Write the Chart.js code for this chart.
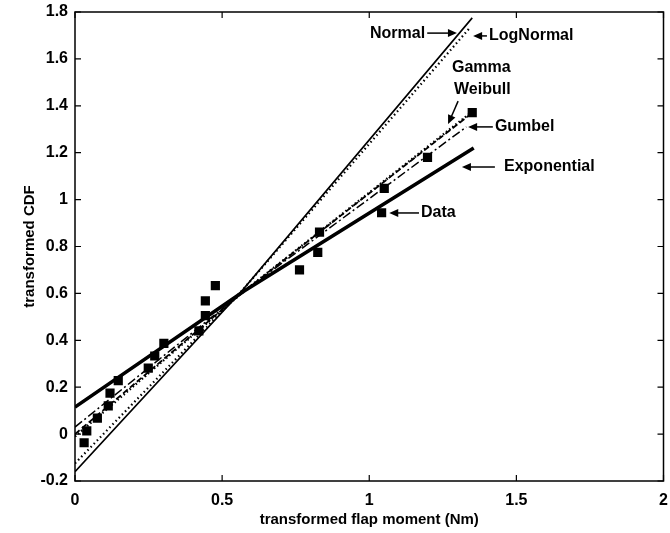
<!DOCTYPE html>
<html>
<head>
<meta charset="utf-8">
<script src="https://cdn.jsdelivr.net/npm/chart.js@4.4.0/dist/chart.umd.min.js"></script>
<style>
  html, body { margin: 0; background: #fff; }
</style>
</head>
<body>
<canvas id="chart" width="670" height="533"></canvas>
<script>
// tick labels
const xTicks = [0, 0.5, 1, 1.5, 2];
const yTicks = [-0.2, 0, 0.2, 0.4, 0.6, 0.8, 1, 1.2, 1.4, 1.6, 1.8];

// data points (transformed flap moment, transformed CDF)
const dataX = [0.031, 0.040, 0.076, 0.113, 0.119, 0.147, 0.249, 0.271, 0.302, 0.421, 0.443, 0.443, 0.477,
               0.763, 0.825, 0.831, 1.042, 1.051, 1.198, 1.350];
const dataY = [-0.037, 0.014, 0.068, 0.120, 0.175, 0.228, 0.281, 0.333, 0.387, 0.440, 0.505, 0.568, 0.633,
               0.700, 0.775, 0.861, 0.944, 1.048, 1.180, 1.371];

// fitted distribution lines
const normalX = [0, 0.57, 1.35];
const normalY = [-0.16, 0.615, 1.775];
const logNormalX = [0, 0.57, 1.34];
const logNormalY = [-0.125, 0.615, 1.73];
const gammaX = [0, 0.575, 1.35];
const gammaY = [0.0, 0.61, 1.37];
const weibullX = [0, 0.575, 1.35];
const weibullY = [-0.01, 0.61, 1.375];
const gumbelX = [0, 0.575, 1.33];
const gumbelY = [0.03, 0.61, 1.31];
const expX = [0, 0.575, 1.355];
const expY = [0.115, 0.61, 1.22];

const FONT = '"Liberation Sans", Arial, sans-serif';

function pts(xs, ys) {
    return xs.map((x, i) => ({ x: x, y: ys[i] }));
}

function lineSet(label, xs, ys, width, dash) {
    return {
        label: label,
        data: pts(xs, ys),
        showLine: true,
        borderColor: '#000',
        borderWidth: width,
        borderDash: dash,
        pointRadius: 0,
        fill: false,
        tension: 0
    };
}

// annotation labels with arrows, in data units
const notes = [
    { text: 'Normal', x: 1.19, y: 1.71, align: 'right', arrow: [1.197, 1.71, 1.298, 1.71] },
    { text: 'LogNormal', x: 1.407, y: 1.698, align: 'left', arrow: [1.40, 1.698, 1.353, 1.698] },
    { text: 'Gamma', x: 1.281, y: 1.561, align: 'left' },
    { text: 'Weibull', x: 1.288, y: 1.467, align: 'left', arrow: [1.302, 1.42, 1.268, 1.322] },
    { text: 'Gumbel', x: 1.427, y: 1.31, align: 'left', arrow: [1.42, 1.31, 1.336, 1.31] },
    { text: 'Exponential', x: 1.458, y: 1.139, align: 'left', arrow: [1.427, 1.139, 1.315, 1.139] },
    { text: 'Data', x: 1.176, y: 0.943, align: 'left', arrow: [1.169, 0.943, 1.068, 0.943] }
];

// box and inward ticks like the original plot
const boxPlugin = {
    id: 'box',
    afterDraw(chart) {
        const { ctx, chartArea: a, scales } = chart;
        ctx.save();
        ctx.strokeStyle = '#000';
        ctx.lineWidth = 1.5;
        ctx.strokeRect(a.left, a.top, a.right - a.left, a.bottom - a.top);
        ctx.lineWidth = 1.2;
        const len = 6;
        xTicks.forEach(v => {
            const px = scales.x.getPixelForValue(v);
            ctx.beginPath();
            ctx.moveTo(px, a.bottom); ctx.lineTo(px, a.bottom - len);
            ctx.moveTo(px, a.top); ctx.lineTo(px, a.top + len);
            ctx.stroke();
        });
        yTicks.forEach(v => {
            const py = scales.y.getPixelForValue(v);
            ctx.beginPath();
            ctx.moveTo(a.left, py); ctx.lineTo(a.left + len, py);
            ctx.moveTo(a.right, py); ctx.lineTo(a.right - len, py);
            ctx.stroke();
        });

        // annotations
        ctx.fillStyle = '#000';
        ctx.font = 'bold 16px ' + FONT;
        ctx.textBaseline = 'middle';
        notes.forEach(n => {
            ctx.textAlign = n.align;
            ctx.fillText(n.text, scales.x.getPixelForValue(n.x), scales.y.getPixelForValue(n.y));
            if (n.arrow) {
                const x1 = scales.x.getPixelForValue(n.arrow[0]);
                const y1 = scales.y.getPixelForValue(n.arrow[1]);
                const x2 = scales.x.getPixelForValue(n.arrow[2]);
                const y2 = scales.y.getPixelForValue(n.arrow[3]);
                const ang = Math.atan2(y2 - y1, x2 - x1);
                const hl = 9, hw = 4;
                ctx.lineWidth = 1.5;
                ctx.beginPath();
                ctx.moveTo(x1, y1);
                ctx.lineTo(x2 - Math.cos(ang) * hl * 0.8, y2 - Math.sin(ang) * hl * 0.8);
                ctx.stroke();
                ctx.beginPath();
                ctx.moveTo(x2, y2);
                ctx.lineTo(x2 - Math.cos(ang) * hl - Math.sin(ang) * hw, y2 - Math.sin(ang) * hl + Math.cos(ang) * hw);
                ctx.lineTo(x2 - Math.cos(ang) * hl + Math.sin(ang) * hw, y2 - Math.sin(ang) * hl - Math.cos(ang) * hw);
                ctx.closePath();
                ctx.fill();
            }
        });
        ctx.restore();
    }
};

function fmt(v) {
    return String(Math.round(v * 10) / 10);
}

new Chart(document.getElementById('chart'), {
    type: 'scatter',
    data: {
        datasets: [
            lineSet('Normal', normalX, normalY, 1.6, []),
            lineSet('LogNormal', logNormalX, logNormalY, 2.2, [1.5, 3]),
            lineSet('Gamma', gammaX, gammaY, 1.8, [6, 3]),
            lineSet('Weibull', weibullX, weibullY, 2.4, [1.5, 2.5]),
            lineSet('Gumbel', gumbelX, gumbelY, 1.5, [9, 3, 2, 3]),
            lineSet('Exponential', expX, expY, 3.6, []),
            {
                label: 'Data',
                data: pts(dataX, dataY),
                pointStyle: 'rect',
                pointRadius: 6.5,
                backgroundColor: '#000',
                borderColor: '#000',
                borderWidth: 0,
                showLine: false
            }
        ]
    },
    options: {
        responsive: false,
        animation: false,
        layout: { padding: { left: 0, right: 5, top: 12, bottom: 0 } },
        plugins: {
            legend: { display: false },
            tooltip: { enabled: false }
        },
        scales: {
            x: {
                type: 'linear',
                min: 0, max: 2,
                afterBuildTicks: s => { s.ticks = xTicks.map(v => ({ value: v })); },
                afterFit: s => { s.height = 52; s.paddingLeft = 0; s.paddingRight = 0; },
                grid: { display: false, drawTicks: false },
                border: { display: false },
                ticks: {
                    color: '#000', padding: 10,
                    font: { family: FONT, size: 16, weight: 'bold' },
                    maxRotation: 0,
                    callback: v => fmt(v)
                },
                title: {
                    display: true, text: 'transformed flap moment (Nm)', color: '#000',
                    font: { family: FONT, size: 15, weight: 'bold' },
                    padding: { top: 0, bottom: 4 }
                }
            },
            y: {
                type: 'linear',
                min: -0.2, max: 1.8,
                afterBuildTicks: s => { s.ticks = yTicks.map(v => ({ value: v })); },
                afterFit: s => { s.width = 75; s.paddingTop = 0; s.paddingBottom = 0; },
                grid: { display: false, drawTicks: false },
                border: { display: false },
                ticks: {
                    color: '#000', padding: 7,
                    font: { family: FONT, size: 16, weight: 'bold' },
                    callback: v => fmt(v)
                },
                title: {
                    display: true, text: 'transformed CDF', color: '#000',
                    font: { family: FONT, size: 15, weight: 'bold' },
                    padding: { top: 21, bottom: 0 }
                }
            }
        }
    },
    plugins: [boxPlugin]
});
</script>
</body>
</html>
